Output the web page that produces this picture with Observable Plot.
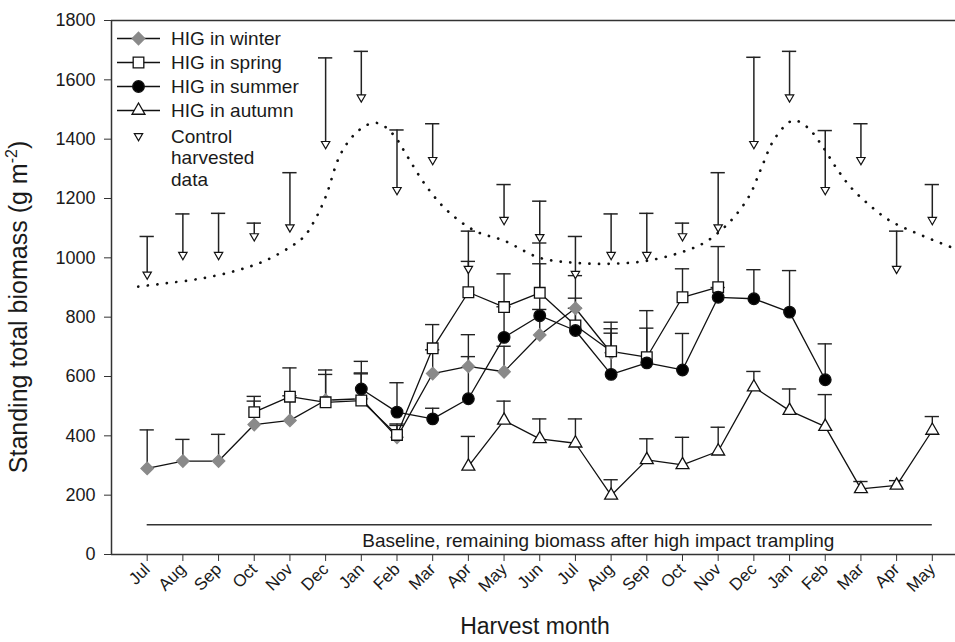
<!DOCTYPE html>
<html><head><meta charset="utf-8">
<script src="https://cdn.jsdelivr.net/npm/d3@7"></script>
<script src="https://cdn.jsdelivr.net/npm/@observablehq/plot@0.6"></script>
<style>
body{margin:0;background:#fff;overflow:hidden}
#chart{position:relative;width:955px;height:642px}
</style></head><body><div id="chart"></div>
<script>
// ---- data ----
const months = ["Jul","Aug","Sep","Oct","Nov","Dec","Jan","Feb","Mar","Apr","May","Jun","Jul","Aug","Sep","Oct","Nov","Dec","Jan","Feb","Mar","Apr","May"];

const winterStart = 0;
const winterVals = [290,315,315,438,452,520,525,395,610,634,616,740,830,680];
const winterCaps = [420,388,405,517,535,607,612,440,690,741,702,826,940,746];

const springStart = 3;
const springVals = [480,532,513,519,403,695,884,834,882,772,685,665,867,901];
const springCaps = [533,629,622,609,435,775,988,946,1050,864,783,822,963,1038];

const summerStart = 6;
const summerVals = [558,480,457,525,732,805,755,607,646,622,867,862,817,589];
const summerCaps = [651,579,493,667,835,980,830,761,763,745,900,960,957,710];

const autumnStart = 9;
const autumnVals = [297,452,390,375,199,319,302,348,564,485,431,221,233,418];
const autumnCaps = [398,517,457,457,252,390,395,429,617,558,539,246,249,465];

const controlStart = 0;
const controlVals = [944,1010,1010,1073,1103,1384,1541,1229,1330,963,1128,1070,946,1010,1010,1073,1103,1384,1541,1229,1330,963,1128];
const controlCaps = [1072,1148,1150,1117,1287,1674,1696,1431,1452,1090,1247,1191,1072,1148,1150,1117,1287,1676,1696,1429,1452,1090,1247];

// dotted control trend (month index, biomass)
const trendX = [-0.25,0.5,1.5,2.5,3.3,4.0,4.4,4.7,5.0,5.4,5.8,6.2,6.5,6.9,7.3,7.8,8.4,9.2,10.0,11.0,12.0,13.0,14.0,15.0,15.6,16.1,16.5,16.9,17.2,17.6,18.1,18.5,18.9,19.3,19.7,20.2,20.8,21.6,22.65];
const trendY = [903,914,930,957,990,1036,1072,1128,1205,1345,1415,1450,1453,1415,1340,1245,1160,1090,1058,1000,983,980,990,1020,1050,1095,1145,1215,1300,1405,1463,1440,1380,1305,1240,1182,1126,1081,1030];

const baseline = [100];
const baselineLabel = ["Baseline, remaining biomass after high impact trampling"];
const yTicks = [0,200,400,600,800,1000,1200,1400,1600,1800];
const legendLabels = ["HIG in winter","HIG in spring","HIG in summer","HIG in autumn"];
const controlLabel = ["Control","harvested","data"];
const yLabel = "Standing total biomass (g m";
const xLabel = "Harvest month";

// ---- build tables ----
const rows = (start, vals, caps) => vals.map((v, i) => ({x: start + i, y: v, cap: caps[i]}));
const winter = rows(winterStart, winterVals, winterCaps);
const spring = rows(springStart, springVals, springCaps);
const summer = rows(summerStart, summerVals, summerCaps);
const autumn = rows(autumnStart, autumnVals, autumnCaps);
const control = rows(controlStart, controlVals, controlCaps);
const trend = trendX.map((x, i) => ({x, y: trendY[i]}));

const INK = "#111";
const FONT = "'Liberation Sans', Arial, sans-serif";
const capHalf = 0.2;
const series = [
  {data: autumn, symbol: "triangle", r: 4.8, fill: "#fff"},
  {data: winter, symbol: "diamond2", r: 5.6, fill: "#8a8a8a", stroke: "#8a8a8a"},
  {data: spring, symbol: "square", r: 6.0, fill: "#fff"},
  {data: summer, symbol: "circle", r: 5.8, fill: "#000"}
];

const marks = [];
// frame lines
marks.push(Plot.ruleY([0, 1800], {stroke: "#333", strokeWidth: 1.5}));
marks.push(Plot.ruleX([-1], {stroke: "#333", strokeWidth: 1.5}));
// baseline
marks.push(Plot.ruleY(baseline, {x1: 0, x2: months.length - 1, stroke: "#333", strokeWidth: 1.5}));
marks.push(Plot.text(baselineLabel, {x: () => 12.64, y: () => 47, text: d => d, fontSize: 19, fill: "#1a1a1a"}));
// dotted trend
marks.push(Plot.line(trend, {x: "x", y: "y", curve: "catmull-rom", stroke: INK, strokeWidth: 2.7, strokeDasharray: "0.1,9.5", strokeLinecap: "round"}));
// control error bars
marks.push(Plot.ruleX(control, {x: "x", y1: "y", y2: "cap", stroke: "#222", strokeWidth: 1.5}));
marks.push(Plot.ruleY(control, {y: "cap", x1: d => d.x - capHalf, x2: d => d.x + capHalf, stroke: "#222", strokeWidth: 1.5}));
// series error bars
for (const s of series) {
  marks.push(Plot.ruleX(s.data, {x: "x", y1: "y", y2: "cap", stroke: "#222", strokeWidth: 1.4}));
  marks.push(Plot.ruleY(s.data, {y: "cap", x1: d => d.x - capHalf, x2: d => d.x + capHalf, stroke: "#222", strokeWidth: 1.4}));
}
for (const s of series) {
  marks.push(Plot.line(s.data, {x: "x", y: "y", stroke: INK, strokeWidth: 1.3}));
}
for (const s of series) {
  marks.push(Plot.dot(s.data, {x: "x", y: "y", symbol: s.symbol, r: s.r, fill: s.fill, stroke: s.stroke || INK, strokeWidth: 1.3}));
}
marks.push(Plot.dot(control, {x: "x", y: "y", symbol: "triangle", r: 3.1, rotate: 180, fill: "#fff", stroke: INK, strokeWidth: 1.2}));
// axes
marks.push(Plot.axisY({ticks: yTicks, tickFormat: d => String(d), tickSize: 7, tickPadding: 9, fontSize: 18, label: null, stroke: "#333"}));
marks.push(Plot.axisX({ticks: d3.range(months.length), tickFormat: i => months[i], tickRotate: -45, tickSize: 7, tickPadding: 5, fontSize: 17, label: null, stroke: "#333"}));

const plot = Plot.plot({
  width: 955, height: 642,
  marginLeft: 111, marginRight: 0, marginTop: 20, marginBottom: 88,
  style: {fontFamily: FONT, color: "#1a1a1a", background: "#fff", overflow: "visible"},
  x: {domain: [-1, 22.65]},
  y: {domain: [0, 1800]},
  marks
});
document.getElementById("chart").appendChild(plot);

// ---- overlay: axis titles and legend ----
const svg = d3.select(plot);
const yl = svg.append("text").attr("transform", "translate(27,307) rotate(-90)")
  .attr("text-anchor", "middle").attr("font-family", FONT).attr("font-size", 25).attr("fill", "#1a1a1a");
yl.append("tspan").text(yLabel);
yl.append("tspan").attr("font-size", 16).attr("dy", -10).text("-2");
yl.append("tspan").attr("dy", 10).text(")");

svg.append("text").attr("x", 535).attr("y", 634).attr("text-anchor", "middle")
  .attr("font-family", FONT).attr("font-size", 23).attr("fill", "#1a1a1a").text(xLabel);

const lg = svg.append("g").attr("font-family", FONT).attr("font-size", 19).attr("fill", "#1a1a1a").attr("text-anchor", "start");
const sym = {
  triangle: d3.symbolTriangle, diamond2: d3.symbolDiamond2, square: d3.symbolSquare, circle: d3.symbolCircle
};
const legendOrder = [series[1], series[2], series[3], series[0]];
legendOrder.forEach((s, i) => {
  const y = 38.5 + i * 24;
  lg.append("line").attr("x1", 117).attr("x2", 160).attr("y1", y).attr("y2", y).attr("stroke", INK).attr("stroke-width", 1.3);
  lg.append("path").attr("transform", `translate(138.5,${y})`)
    .attr("d", d3.symbol(sym[s.symbol], Math.PI * s.r * s.r)())
    .attr("fill", s.fill).attr("stroke", s.stroke || INK).attr("stroke-width", 1.3);
  lg.append("text").attr("x", 171).attr("y", y).attr("dy", "0.35em").text(legendLabels[i]);
});
lg.append("path").attr("transform", "translate(138.5,136) rotate(180)")
  .attr("d", d3.symbol(d3.symbolTriangle, Math.PI * 3.1 * 3.1)())
  .attr("fill", "#fff").attr("stroke", INK).attr("stroke-width", 1.2);
controlLabel.forEach((t, i) => {
  lg.append("text").attr("x", 171).attr("y", 136 + i * 21.5).attr("dy", "0.35em").text(t);
});
</script>
</body></html>
